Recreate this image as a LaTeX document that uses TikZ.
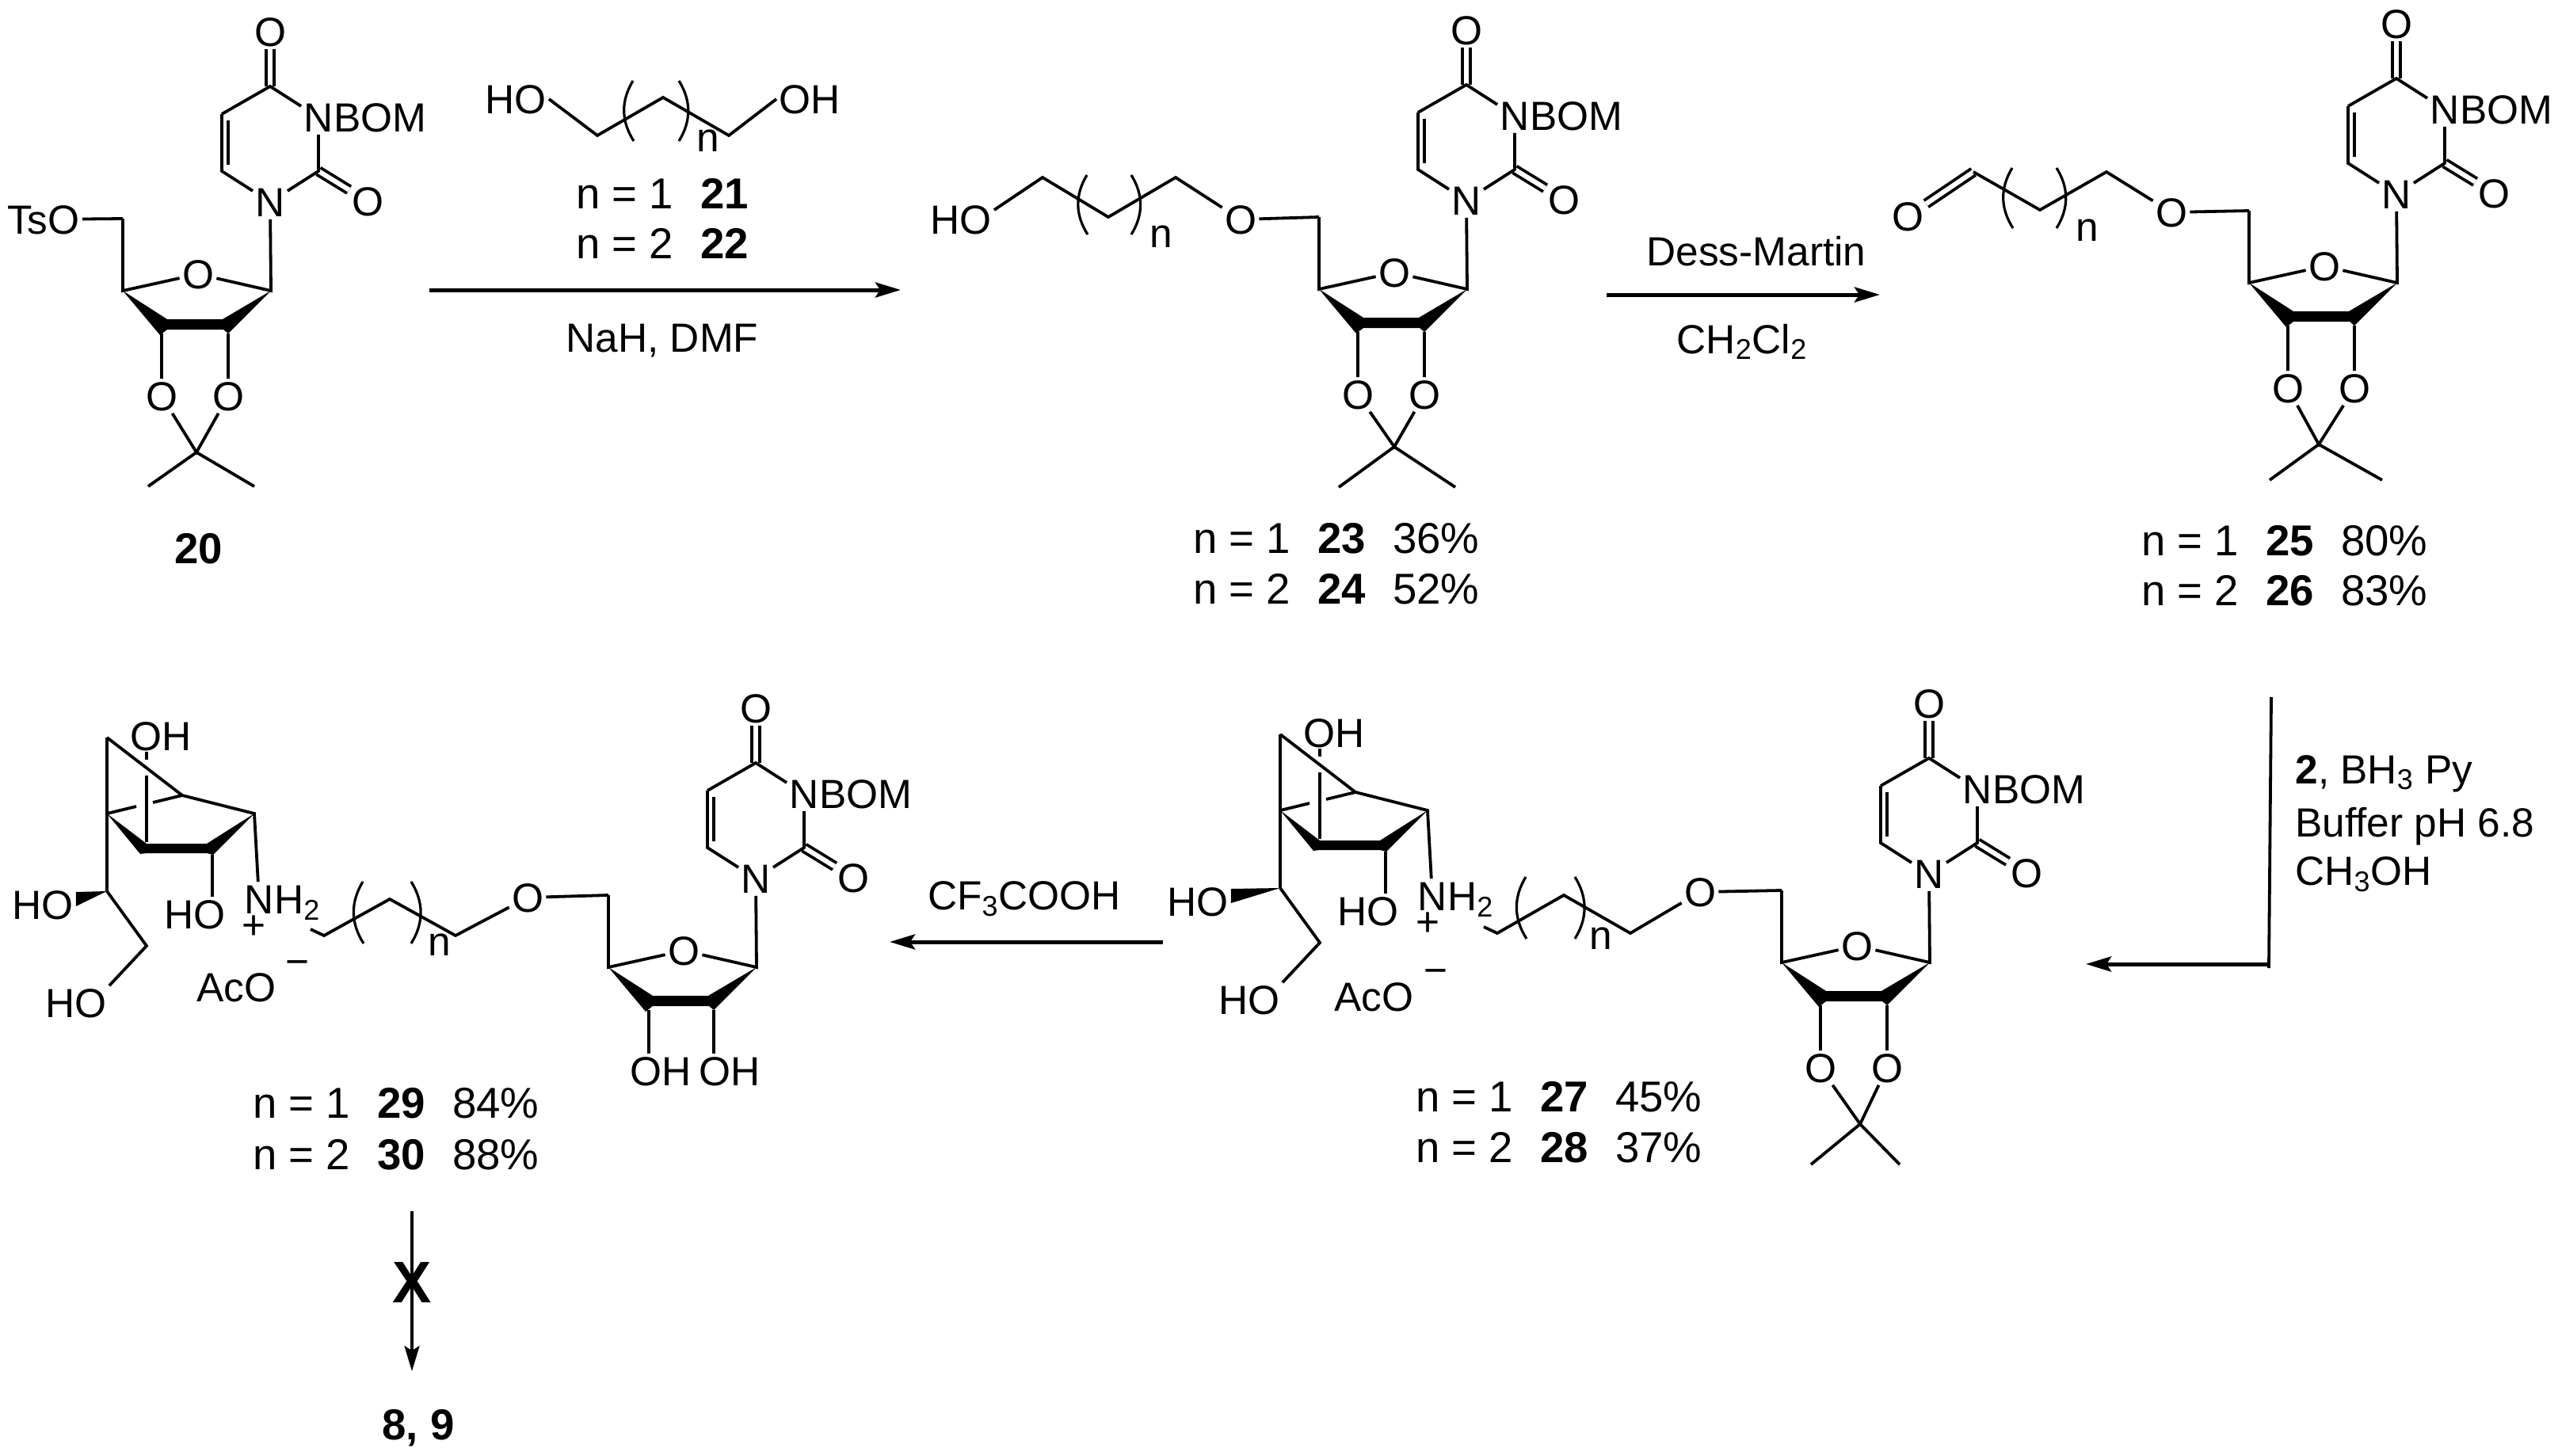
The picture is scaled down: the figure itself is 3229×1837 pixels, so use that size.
\documentclass[tikz,border=0pt]{standalone}
\usepackage{fontspec}
\setmainfont{Liberation Sans}
\usetikzlibrary{positioning,arrows.meta}
\tikzstyle{atom}=[inner sep=1.5pt, text height=18.4pt, text depth=0pt, font=\fontsize{25.7pt}{30pt}\selectfont]
\tikzstyle{reagent}=[inner sep=0pt, anchor=base, font=\fontsize{25.7pt}{30pt}\selectfont]
\tikzstyle{yieldtext}=[inner sep=0pt, anchor=base west, font=\fontsize{27.3pt}{30pt}\selectfont]
\tikzstyle{cmpd}=[inner sep=0pt, anchor=base, font=\fontsize{27.3pt}{30pt}\selectfont\bfseries]
\tikzstyle{bond}=[line width=1.9pt]
\tikzstyle{dblbond}=[line width=1.9pt, double, double distance=3pt]
\tikzstyle{rxn}=[line width=2.5pt, ->]
\tikzset{>={Stealth[length=16pt,width=9.5pt,inset=3pt]}}

\newcommand{\uridine}[3]{
    \begin{scope}[shift={(#2,#3)}]
        \coordinate(#1c1) at (0,0);
        \coordinate(#1c4) at (-187,0);
        \coordinate(#1c5) at (-187,-91);
        \coordinate(#1u4) at (-1,-258);
        \coordinate(#1u2) at (60,-151);
        \coordinate(#1u6) at (-62,-151);
        \coordinate(#1u5) at (-62,-223);
        \node(#1ring)[atom] at (-92,-21) {O};
        \node(#1n1)[atom] at (-1,-112) {N};
        \node(#1n3)[atom] at (60,-219) {N};
        \node(#1bom)[atom, right=-3pt of #1n3] {BOM};
        \node(#1otwo)[atom] at (122,-113) {O};
        \node(#1ofour)[atom] at (-1,-327) {O};
        \draw[dblbond] (#1u4) -- (#1ofour);
        \draw[dblbond] (#1u2) -- (#1otwo);
        \draw[bond] (#1u5) -- (#1u4) -- (#1n3) -- (#1u2) -- (#1n1) -- (#1u6) -- (#1u5);
        \draw[bond] ([shift={(8,8)}]#1u5) -- ([shift={(8,-8)}]#1u6);
        \draw[bond] (#1n1) -- (#1c1) -- (#1ring) -- (#1c4) -- (#1c5);
        \fill (#1c4) -- (-131,36) -- (-61,36) -- (#1c1) -- (-54,54) -- (-60,49) -- (-131,49) -- (-140,56) -- cycle;
    \end{scope}
}

\newcommand{\acetonide}[6]{
    \begin{scope}[shift={(#1c1)}]
        \coordinate(#1a3) at (-138,54);
        \coordinate(#1a2) at (-54,54);
        \coordinate(#1k) at (#2,#3);
        \coordinate(#1mea) at (#4,#6);
        \coordinate(#1meb) at (#5,#6);
        \node(#1othree)[atom] at (-138,133) {O};
        \node(#1otw)[atom] at (-54,133) {O};
        \draw[bond] (#1a3) -- (#1othree) -- (#1k) -- (#1otw) -- (#1a2);
        \draw[bond] (#1mea) -- (#1k) -- (#1meb);
    \end{scope}
}

\newcommand{\carbocycle}[4]{
    \begin{scope}[shift={(#2,#3)}]
        \coordinate(#1f) at (0,0);
        \coordinate(#1a) at (0,-96);
        \coordinate(#1b) at (95,-23);
        \coordinate(#1c) at (186,0);
        \coordinate(#1d) at (133,52);
        \coordinate(#1g) at (0,98);
        \coordinate(#1h) at (50,167);
        \node(#1ohtop)[atom] at (68,-98) {OH};
        \node(#1homid)[atom] at (111,127) {HO};
        \node(#1holeft)[atom] at (#4,115) {HO};
        \node(#1hoend)[atom] at (-39,239) {HO};
        \node(#1nam)[atom] at (192,108) {N};
        \node(#1nh)[atom, right=-3pt of #1nam] {H\textsubscript{2}};
        \node(#1plus)[reagent] at (186,158) {+};
        \draw[bond] (#1a) -- (#1g);
        \draw[bond] (#1a) -- (#1b) -- (#1c) -- (#1nam);
        \draw[bond] (#1f) -- (37,-9);
        \draw[bond] (58,-14) -- (#1b);
        \draw[bond] (50,-78) -- (50,-68);
        \draw[bond] (50,-48) -- (50,36);
        \draw[bond] (#1d) -- (#1homid.north -| #1d);
        \draw[bond] (#1g) -- (#1h) -- (#1hoend.north east);
        \fill (#1f) -- (50,38) -- (126,38) -- (#1c) -- (134,52) -- (126,50) -- (50,50) -- (42,51) -- cycle;
        \fill (#1g) -- ([yshift=8pt]#1holeft.east) -- ([yshift=-1pt]#1holeft.east) -- cycle;
    \end{scope}
}

\newcommand{\brackets}[4]{
    \draw[bond, line width=1.6pt] (#1,#3) to[bend right=32] (#1+1,#4);
    \draw[bond, line width=1.6pt] (#2,#3) to[bend left=32] (#2,#4);
}

\begin{document}
\begin{tikzpicture}[x=0.5pt, y=-0.5pt]
    \useasboundingbox (0,0) rectangle (3229,1837);

    % 20
    \uridine{t}{342}{367}
    \acetonide{t}{-94}{204}{-155}{-21}{247}
    \node(tso)[atom, anchor=east] at (104,277) {TsO};
    \draw[bond] (tso) -- (tc5);
    \node(cmpd20)[cmpd] at (251,711) {20};

    % diol
    \node(diola)[atom] at (651,125) {HO};
    \node(diolb)[atom] at (1022,125) {OH};
    \coordinate(dc1) at (754,171);
    \coordinate(dc2) at (837,123);
    \coordinate(dc3) at (920,171);
    \draw[bond] (diola.east) -- (dc1) -- (dc2) -- (dc3) -- (diolb.west);
    \brackets{799}{857}{102}{178}
    \node(diolN)[reagent] at (894,191) {n};

    \foreach \nn/\cmpd/\by in {1/21/263, 2/22/326}{
        \node(yield\cmpd)[yieldtext] at (727,\by) {n = \nn\hspace{17pt}\textbf{\cmpd}};
    };

    \coordinate(rxnAa) at (542,366);
    \coordinate(rxnAb) at (1137,366);
    \draw[rxn] (rxnAa) -- (rxnAb);
    \node(nah)[reagent] at (836,444) {NaH, DMF};

    % 23, 24
    \uridine{m}{1852}{365}
    \acetonide{m}{-92}{199}{-162}{-15}{250}
    \node(mho)[atom] at (1213,277) {HO};
    \node(moxy)[atom] at (1566,277) {O};
    \coordinate(mc1) at (1316,224);
    \coordinate(mc2) at (1399,274);
    \coordinate(mc3) at (1484,224);
    \draw[bond] ([yshift=6pt]mho.east) -- (mc1) -- (mc2) -- (mc3) -- (moxy) -- (mc5);
    \brackets{1372}{1428}{221}{296}
    \node(mN)[reagent] at (1466,312) {n};

    \coordinate(rxnBa) at (2028,372);
    \coordinate(rxnBb) at (2373,372);
    \draw[rxn] (rxnBa) -- (rxnBb);
    \node(dess)[reagent] at (2217,335) {Dess-Martin};
    \node(dcm)[reagent] at (2199,446) {CH\textsubscript{2}Cl\textsubscript{2}};

    % 25, 26
    \uridine{r}{3026}{357}
    \acetonide{r}{-99}{204}{-161}{-19}{249}
    \node(rald)[atom] at (2408,273) {O};
    \node(roxy)[atom] at (2741,268) {O};
    \coordinate(rc0) at (2491,217);
    \coordinate(rc1) at (2575,265);
    \coordinate(rc2) at (2659,217);
    \draw[dblbond] (rc0) -- (rald);
    \draw[bond] (rc0) -- (rc1) -- (rc2) -- (roxy) -- (rc5);
    \brackets{2540}{2596}{212}{288}
    \node(rN)[reagent] at (2635,304) {n};

    \coordinate(rxnCa) at (2867,880);
    \coordinate(rxnCb) at (2864,1222);
    \coordinate(rxnCc) at (2864,1217);
    \coordinate(rxnCd) at (2633,1217);
    \draw[bond] (rxnCa) -- (rxnCb);
    \draw[rxn] (rxnCc) -- (rxnCd);
    \node(nabh)[reagent, anchor=base west] at (2897,989) {\textbf{2}, BH\textsubscript{3} Py};
    \node(buffer)[reagent, anchor=base west] at (2897,1056) {Buffer pH 6.8};
    \node(meoh)[reagent, anchor=base west] at (2897,1117) {CH\textsubscript{3}OH};

    % 27, 28
    \uridine{q}{2436}{1215}
    \acetonide{q}{-88}{204}{-150}{-38}{255}
    \carbocycle{qs}{1616}{1023}{-104}
    \node(qoxy)[atom] at (2146,1126) {O};
    \coordinate(qend) at (1873,1170);
    \coordinate(qc1) at (1890,1178);
    \coordinate(qc2) at (1974,1130);
    \coordinate(qc3) at (2058,1178);
    \draw[bond] (qend) -- (qc1) -- (qc2) -- (qc3) -- (qoxy) -- (qc5);
    \brackets{1926}{1988}{1107}{1185}
    \node(qN)[reagent] at (2021,1198) {n};
    \node(qaco)[atom] at (1734,1258) {AcO};
    \node(qminus)[atom] at (1812,1224) {−};

    \coordinate(rxnDa) at (1468,1189);
    \coordinate(rxnDb) at (1123,1189);
    \draw[rxn] (rxnDa) -- (rxnDb);
    \node(tfa)[reagent] at (1293,1148) {CF\textsubscript{3}COOH};

    % 29, 30
    \uridine{p}{955}{1221}
    \carbocycle{ps}{135}{1027}{-81}
    \node(poxy)[atom] at (666,1133) {O};
    \node(pohb)[atom] at (834,1352) {OH};
    \node(poha)[atom] at (921,1352) {OH};
    \coordinate(pa3) at (819,1275);
    \coordinate(pa2) at (901,1275);
    \draw[bond] (pa3) -- (pohb.north -| pa3);
    \draw[bond] (pa2) -- (poha.north -| pa2);
    \coordinate(pend) at (392,1173);
    \coordinate(pc1) at (409,1181);
    \coordinate(pc2) at (492,1135);
    \coordinate(pc3) at (575,1181);
    \draw[bond] (pend) -- (pc1) -- (pc2) -- (pc3) -- (poxy) -- (pc5);
    \brackets{458}{519}{1113}{1191}
    \node(pN)[reagent] at (555,1206) {n};
    \node(paco)[atom] at (298,1246) {AcO};
    \node(pminus)[atom] at (376,1213) {−};

    \foreach \nn/\cmpd/\yld/\lx/\by in {1/23/36/1506/698, 2/24/52/1506/762, 1/25/80/2703/701, 2/26/83/2703/764, 1/27/45/1787/1403, 2/28/37/1787/1467, 1/29/84/319/1411, 2/30/88/319/1476}{
        \node(yield\cmpd)[yieldtext] at (\lx,\by) {n = \nn\hspace{17pt}\textbf{\cmpd}\hspace{17pt}\yld\%};
    };

    \coordinate(rxnEa) at (520,1529);
    \coordinate(rxnEb) at (520,1731);
    \draw[bond, ->] (rxnEa) -- (rxnEb);
    \node(blocked)[cmpd, font=\fontsize{37pt}{40pt}\selectfont\bfseries, anchor=center] at (520,1619) {X};
    \node(target)[cmpd] at (528,1817) {8, 9};
\end{tikzpicture}
\end{document}
